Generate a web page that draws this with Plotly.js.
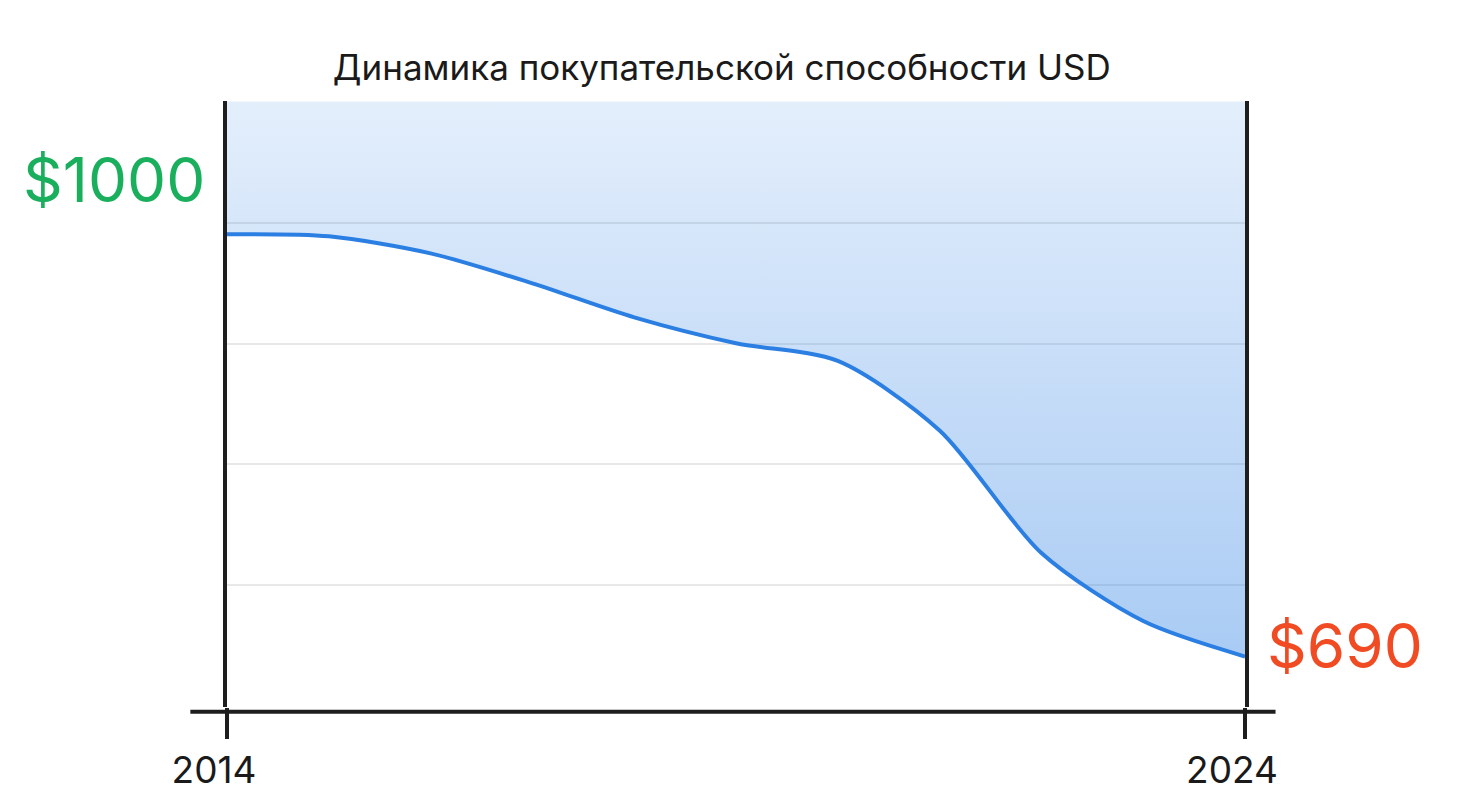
<!DOCTYPE html>
<html>
<head>
<meta charset="utf-8">
<script src="https://cdn.plot.ly/plotly-3.0.1.min.js"></script>
<style>
    html, body { margin: 0; padding: 0; background: #ffffff; }
    #chart { width: 1473px; height: 799px; }
</style>
</head>
<body>
<div id="chart"></div>
<script>
// purchasing power of 1000 USD, one point per year
const years = [2014, 2015, 2016, 2017, 2018, 2019, 2020, 2021, 2022, 2023, 2024]
const power = [1000, 998.5, 986, 964, 939, 920, 907, 856, 766, 716, 690]

const tickYears = [2014, 2024]
const tickLabels = ["2014", "2024"]

const startLabel = "$1000"
const endLabel = "$690"
const chartTitle = "Динамика покупательской способности USD"

// the y axis is hidden, five equal bands between the gridlines
const yBottom = 653.3
const yTop = 1097.5
const yStep = (yTop - yBottom) / 5
const yRange = [yBottom - 0.4, yTop + 0.4]

const colors = {
    line: "#2b7fe3",
    fillTop: "rgba(43,127,227,0.13)",
    fillBottom: "rgba(43,127,227,0.43)",
    axis: "#1e1e1e",
    grid: "#e8e8e8",
    start: "#1aaf5d",
    end: "#f04b22",
    text: "#1a1a1a"
}

const font = "Inter, 'Noto Sans', sans-serif"

const traces = [
    {
        // upper edge of the shaded area, invisible
        x: years,
        y: years.map(() => yTop),
        type: "scatter",
        mode: "lines",
        line: {width: 0},
        hoverinfo: "skip",
        showlegend: false
    },
    {
        x: years,
        y: power,
        type: "scatter",
        mode: "lines",
        line: {color: colors.line, width: 4, shape: "spline", smoothing: 0.8},
        fill: "tonexty",
        fillgradient: {
            type: "vertical",
            start: yBottom,
            stop: yTop,
            colorscale: [[0, colors.fillBottom], [1, colors.fillTop]]
        },
        showlegend: false
    }
]

const layout = {
    width: 1473,
    height: 799,
    margin: {l: 227, r: 228, t: 101, b: 92},
    paper_bgcolor: "#ffffff",
    plot_bgcolor: "#ffffff",
    font: {family: font, color: colors.text},
    title: {
        text: chartTitle,
        font: {family: font, size: 35, color: colors.text},
        x: 0.49,
        xanchor: "center",
        y: 0.915,
        yanchor: "middle"
    },
    xaxis: {
        range: [years[0], years[years.length - 1]],
        tickvals: tickYears,
        ticktext: tickLabels,
        tickfont: {family: font, size: 37, color: colors.text},
        ticklabelshift: -13,
        ticks: "outside",
        ticklen: 31,
        tickwidth: 4,
        tickcolor: colors.axis,
        showgrid: false,
        zeroline: false,
        showline: false,
        fixedrange: true
    },
    yaxis: {
        range: yRange,
        tick0: yBottom,
        dtick: yStep,
        showticklabels: false,
        showgrid: true,
        gridcolor: colors.grid,
        gridwidth: 2,
        zeroline: false,
        showline: true,
        mirror: true,
        linecolor: colors.axis,
        linewidth: 4,
        fixedrange: true
    },
    shapes: [
        {
            type: "line",
            xref: "paper", yref: "paper",
            x0: -0.036, x1: 1.03,
            y0: -0.008, y1: -0.008,
            line: {color: colors.axis, width: 4}
        }
    ],
    annotations: [
        {
            text: startLabel,
            xref: "paper", yref: "paper",
            x: -0.02, y: 0.87,
            xanchor: "right", yanchor: "middle",
            showarrow: false,
            font: {family: font, size: 62, color: colors.start}
        },
        {
            text: endLabel,
            xref: "paper", yref: "y",
            x: 1.02, y: power[power.length - 1] + 8,
            xanchor: "left", yanchor: "middle",
            showarrow: false,
            font: {family: font, size: 62, color: colors.end}
        }
    ]
}

Plotly.newPlot("chart", traces, layout, {displayModeBar: false, staticPlot: true})
</script>
</body>
</html>
